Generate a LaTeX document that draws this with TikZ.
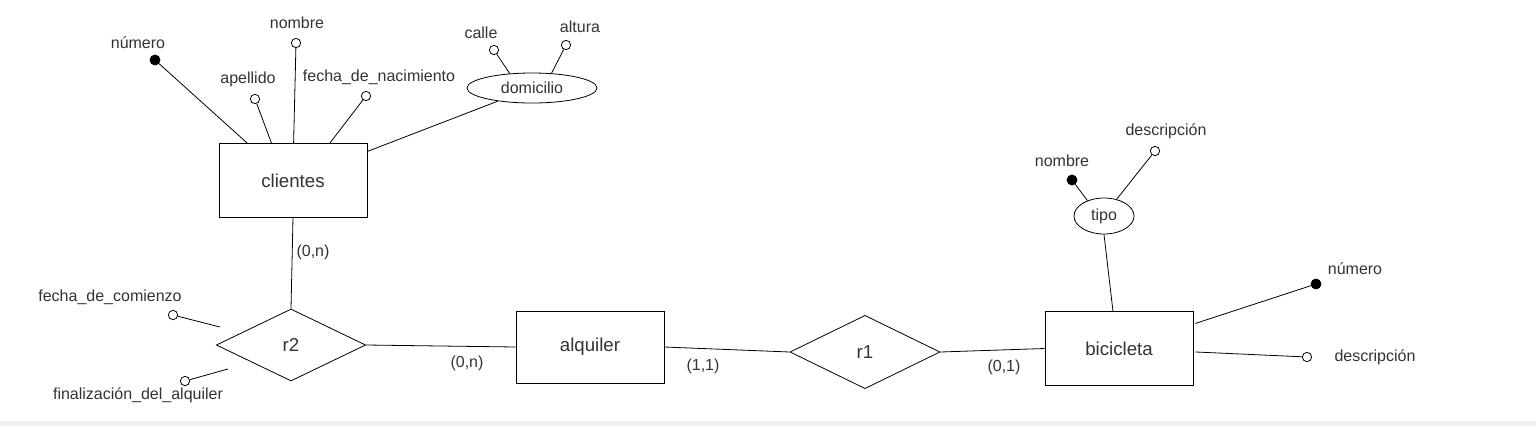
\documentclass[tikz,border=0pt]{standalone}
\usepackage{fontspec}
\setmainfont{Liberation Sans}
\usetikzlibrary{shapes.geometric}
\definecolor{txtgray}{HTML}{333333}
\definecolor{stripgray}{HTML}{F0F0F0}
\begin{document}
\begin{tikzpicture}[x=0.75pt,y=-0.75pt,line width=0.6pt]
\tikzstyle{every node}=[text=txtgray,font=\fontsize{12}{14}\selectfont]
\tikzstyle{entity}=[draw,rectangle,minimum width=111pt,minimum height=55pt,font=\fontsize{14}{16}\selectfont]
\tikzstyle{relation}=[draw,diamond,inner sep=0pt,minimum width=112pt,minimum height=54pt,font=\fontsize{14}{16}\selectfont]
\tikzstyle{compound}=[draw,ellipse,inner sep=0pt]
\tikzstyle{attr}=[draw,circle,fill=white,inner sep=0pt,minimum size=7pt]
\tikzstyle{keyattr}=[draw,circle,fill=black,inner sep=0pt,minimum size=7.5pt]
\fill[white] (0,0) rectangle (1536,426);
\fill[stripgray] (0,421) rectangle (1536,426);
\useasboundingbox (0,0) rectangle (1536,426);

\node[entity] (clientes) at (293,180.5) {clientes};
\node[entity,minimum height=54pt] (alquiler) at (590,347) {alquiler};
\node[entity] (bicicleta) at (1119,348.5) {bicicleta};
\node[relation] (r2) at (291,345) {r2};
\node[relation,minimum width=112.5pt,minimum height=55pt] (r1) at (865,352) {r1};
\node[compound,minimum width=97.5pt,minimum height=22.5pt] (domicilio) at (532,88) {domicilio};
\node[compound,minimum width=45pt,minimum height=27pt] (tipo) at (1104,216) {tipo};

\node[keyattr] (cnum) at (155,60) {};
\node[attr] (cape) at (255,99) {};
\node[attr] (cnom) at (296,43) {};
\node[attr] (cfec) at (366,96) {};
\node[attr] (dcal) at (494,50) {};
\node[attr] (dalt) at (566,45) {};
\node[attr] (rcom) at (173,315) {};
\node[attr] (rfin) at (185,381) {};
\node[keyattr] (tnom) at (1072,180) {};
\node[attr] (tdes) at (1155,151) {};
\node[keyattr] (bnum) at (1316,284) {};
\node[attr] (bdes) at (1307,357) {};

\node (lcnum) at (138,43) {número};
\node (lcape) at (248,79) {apellido};
\node (lcnom) at (297,23) {nombre};
\node (lcfec) at (379,77) {fecha\_de\_nacimiento};
\node (ldcal) at (481,33) {calle};
\node (ldalt) at (580,27) {altura};
\node (lrcom) at (110,297) {fecha\_de\_comienzo};
\node (lrfin) at (138,395) {finalización\_del\_alquiler};
\node (ltnom) at (1062,161) {nombre};
\node (ltdes) at (1166,131) {descripción};
\node (lbnum) at (1355,269) {número};
\node (lbdes) at (1375,357) {descripción};

\node (k1) at (313,252) {(0,n)};
\node (k2) at (467,363) {(0,n)};
\node (k3) at (703,366) {(1,1)};
\node (k4) at (1004,367) {(0,1)};

\draw (cnum) -- ([xshift=21.75pt]clientes.north west);
\draw (cape) -- ([xshift=39.75pt]clientes.north west);
\draw (cnom) -- ([xshift=56.25pt]clientes.north west);
\draw (cfec) -- ([xshift=83.25pt]clientes.north west);
\draw (domicilio) -- ([yshift=-6pt]clientes.north east);
\draw (dcal) -- (domicilio.147);
\draw (dalt) -- (domicilio.37);
\draw (clientes.south) -- (r2.north);
\draw (rcom) -- ([xshift=3pt,yshift=13.5pt]r2.west);
\draw (rfin) -- ([xshift=9pt,yshift=-18pt]r2.west);
\draw (r2.east) -- (alquiler.west);
\draw (alquiler.east) -- (r1.west);
\draw (r1.east) -- (bicicleta.west);
\draw (tnom) -- (tipo.137);
\draw (tdes) -- (tipo.53);
\draw (tipo.south) -- ([xshift=-4.5pt]bicicleta.north);
\draw (bnum) -- ([xshift=1.5pt,yshift=-9pt]bicicleta.north east);
\draw (bdes) -- ([xshift=1.5pt,yshift=-2.6pt]bicicleta.east);
\end{tikzpicture}
\end{document}
